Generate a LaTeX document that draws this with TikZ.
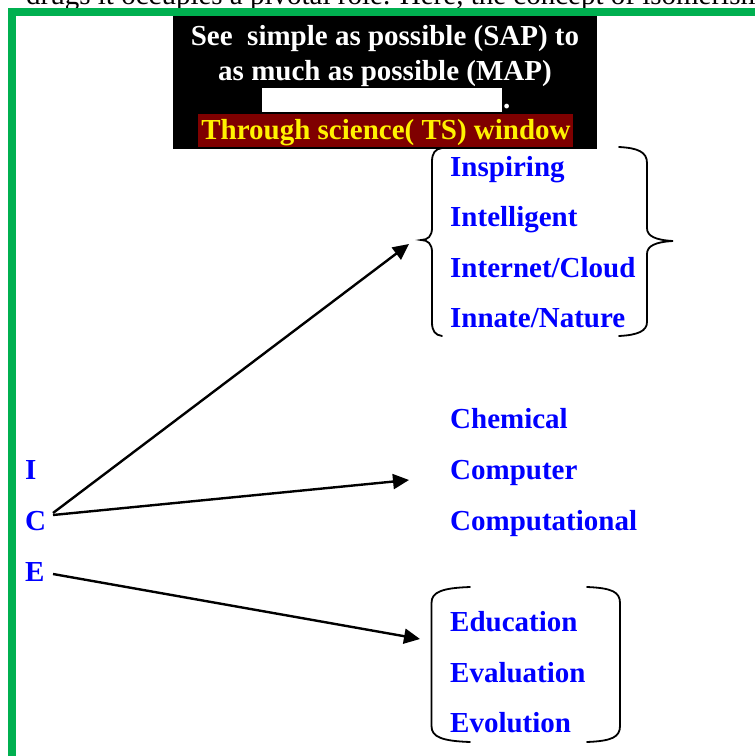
\documentclass[tikz,border=0pt]{standalone}
\usepackage{fontspec}
\setmainfont{Liberation Serif}
\usetikzlibrary{arrows.meta}
\definecolor{framegreen}{HTML}{00B050}
\definecolor{maroonbg}{HTML}{7F0000}
\begin{document}
\begin{tikzpicture}[x=1pt,y=-1pt,
  lbl/.style={inner sep=0pt,anchor=base west,text=blue,font=\bfseries\fontsize{29}{35}\selectfont},
  ttl/.style={inner sep=0pt,anchor=base,text=white,font=\bfseries\fontsize{29}{35}\selectfont},
  arr/.style={line width=2.4pt,-{Triangle[length=16pt,width=15pt]}},
  brace/.style={line width=1.8pt,line cap=round}]
\useasboundingbox (0,0) rectangle (755,756);
\clip (0,0) rectangle (755,756);
\fill[white] (0,0) rectangle (755,756);
% cut-off running text
\node[inner sep=0pt,anchor=base west,font=\fontsize{29}{35}\selectfont] (run) at (26,4.5) {drugs it occupies a pivotal role. Here, the concept of isomerism};
% title block
\fill[black] (173,16) rectangle (597,149);
\fill[white] (262,88) rectangle (502,112);
\fill[maroonbg] (198,114) rectangle (573,147);
\node[ttl] (t1) at (385,45) {See\ \ simple as possible (SAP) to};
\node[ttl] (t2) at (385,80) {as much as possible (MAP)};
\node[ttl,anchor=base west] (t3) at (503,108) {.};
\node[ttl,text=yellow] (t4) at (386,139) {Through science( TS) window};
% green frame
\draw[framegreen,line width=8pt] (11.5,11.5) rectangle (900,900);
% left letters
\node[lbl] (I) at (25,479) {I};
\node[lbl] (C) at (25,530) {C};
\node[lbl] (E) at (25,581) {E};
% first group
\node[lbl] (a1) at (450,176) {Inspiring};
\node[lbl] (a2) at (450,226) {Intelligent};
\node[lbl] (a3) at (450,277) {Internet/Cloud};
\node[lbl] (a4) at (450,327) {Innate/Nature};
% second group
\node[lbl] (b1) at (450,428) {Chemical};
\node[lbl] (b2) at (450,479) {Computer};
\node[lbl] (b3) at (450,530) {Computational};
% third group
\node[lbl] (c1) at (450,631) {Education};
\node[lbl] (c2) at (450,682) {Evaluation};
\node[lbl] (c3) at (450,732) {Evolution};
% braces
\draw[brace] (442,148) .. controls (435,149) and (432,153) .. (432,162) -- (432,228)
  .. controls (432,236) and (428,240) .. (421,240)
  .. controls (428,240) and (432,244) .. (432,252) -- (432,322)
  .. controls (432,331) and (435,335) .. (442,336);
\draw[brace] (619,147) .. controls (638,148) and (647,152) .. (647,163) -- (647,228)
  .. controls (647,236) and (655,240) .. (673,241)
  .. controls (655,242) and (647,246) .. (647,254) -- (647,322)
  .. controls (647,331) and (638,335) .. (619,336);
\draw[brace] (470,587) .. controls (442,588) and (431.5,592) .. (431.5,603) -- (431.5,726)
  .. controls (431.5,737) and (442,741) .. (470,742);
\draw[brace] (587,587) .. controls (612,588) and (620,592) .. (620,603) -- (620,726)
  .. controls (620,737) and (612,741) .. (587,742);
% connectors
\coordinate (s1) at (53,513);
\coordinate (s2) at (53,515);
\coordinate (s3) at (53,574);
\coordinate (e1) at (409,244);
\coordinate (e2) at (409,480);
\coordinate (e3) at (420,639);
\draw[arr] (s1) -- (e1);
\draw[arr] (s2) -- (e2);
\draw[arr] (s3) -- (e3);
\end{tikzpicture}
\end{document}
